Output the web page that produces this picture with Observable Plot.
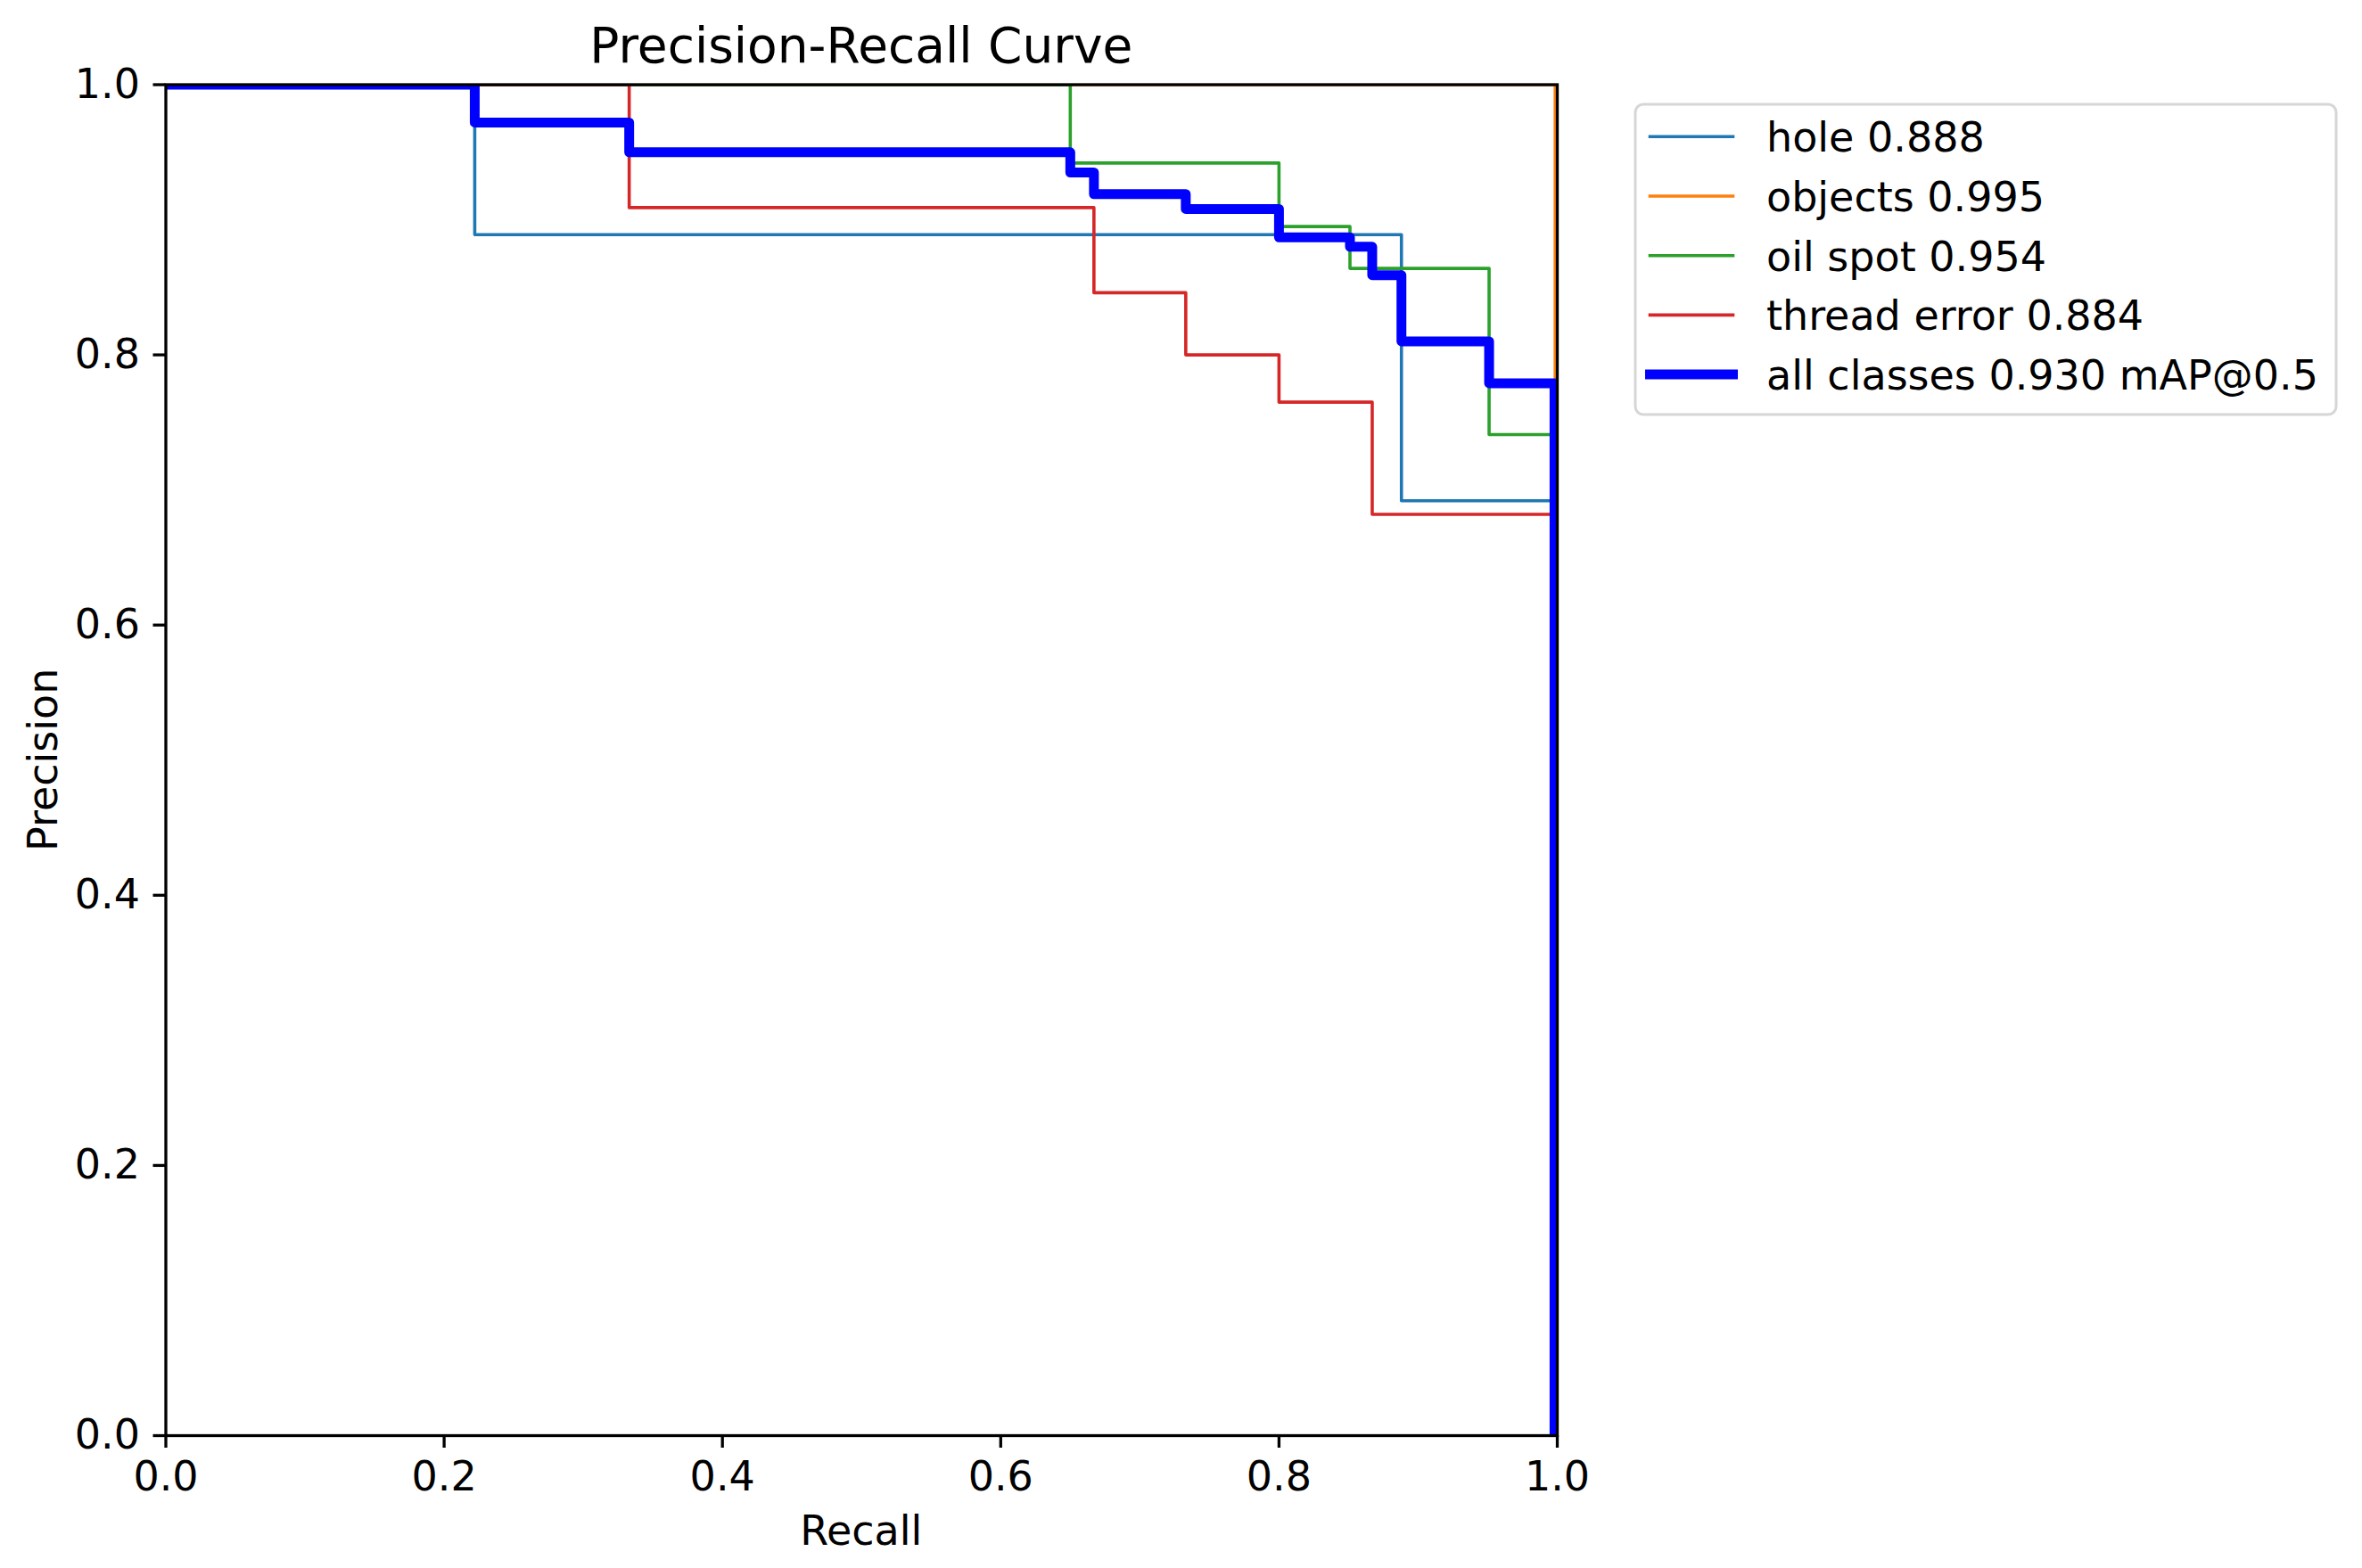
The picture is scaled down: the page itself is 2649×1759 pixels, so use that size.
<!DOCTYPE html>
<html><head><meta charset="utf-8">
<script src="https://cdn.jsdelivr.net/npm/d3@7"></script>
<script src="https://cdn.jsdelivr.net/npm/@observablehq/plot@0.6"></script>
<style>html,body{margin:0;padding:0;background:#fff;} #chart{position:relative;width:2649px;height:1759px;}</style>
</head><body><div id="chart"></div>
<script>
// ---- data ----
const classNames = ["hole 0.888", "objects 0.995", "oil spot 0.954", "thread error 0.884", "all classes 0.930 mAP@0.5"];
const classColors = ["#1f77b4", "#ff7f0e", "#2ca02c", "#d62728", "#0000ff"];

const recallHole = [0, 0.222, 0.888, 0.998];
const precHole   = [1.0, 0.889, 0.692, 0];

const recallObjects = [0, 0.9985];
const precObjects   = [1.0, 0];

const recallOil = [0, 0.650, 0.800, 0.851, 0.951, 0.998];
const precOil   = [1.0, 0.942, 0.895, 0.864, 0.741, 0];

const recallThread = [0, 0.333, 0.667, 0.733, 0.800, 0.867, 0.998];
const precThread   = [1.0, 0.909, 0.846, 0.800, 0.765, 0.682, 0];

const recallAll = [0, 0.222, 0.333, 0.650, 0.667, 0.733, 0.800, 0.851, 0.867, 0.888, 0.951, 0.998];
const precAll   = [1.0, 0.972, 0.950, 0.935, 0.919, 0.908, 0.887, 0.880, 0.859, 0.810, 0.779, 0];

const xTicks = [0, 0.2, 0.4, 0.6, 0.8, 1.0];
const yTicks = [0, 0.2, 0.4, 0.6, 0.8, 1.0];

const titleText = "Precision-Recall Curve";
const xLabel = "Recall";
const yLabel = "Precision";

// ---- build tables ----
function series(name, rec, prec) { return rec.map((r, i) => ({name, recall: r, precision: prec[i]})); }
const tables = [
  series(classNames[0], recallHole, precHole),
  series(classNames[1], recallObjects, precObjects),
  series(classNames[2], recallOil, precOil),
  series(classNames[3], recallThread, precThread),
  series(classNames[4], recallAll, precAll)
];

const W = 2649, H = 1759, ML = 185.5, MR = 903, MT = 94.5, MB = 149;
const thin = 3.6, thick = 11;
const FONT = "DejaVu Sans";
const FS = 46, TFS = 55;

const lineMarks = tables.map((t, i) => Plot.line(t, {
  x: "recall", y: "precision", stroke: classColors[i],
  strokeWidth: i === 4 ? thick : thin, curve: "step-after", clip: true,
  strokeLinejoin: "round", strokeLinecap: "square"
}));

const svg = Plot.plot({
  width: W, height: H,
  marginLeft: ML, marginRight: MR, marginTop: MT, marginBottom: MB,
  style: {fontFamily: FONT, background: "white", color: "black", overflow: "visible"},
  x: {domain: [0, 1]},
  y: {domain: [0, 1]},
  marks: [
    ...lineMarks,
    Plot.frame({stroke: "black", strokeWidth: 3.3}),
    Plot.axisX({ticks: xTicks, tickFormat: d3.format(".1f"), tickSize: 14, tickPadding: 15,
      fontSize: FS, strokeWidth: 3.3, stroke: "black", fill: "black", label: null}),
    Plot.axisY({ticks: yTicks, tickFormat: d3.format(".1f"), tickSize: 14, tickPadding: 15,
      fontSize: FS, strokeWidth: 3.3, stroke: "black", fill: "black", label: null})
  ]
});

document.getElementById("chart").appendChild(svg);

const s = d3.select(svg);
const cx = ML + (W - ML - MR) / 2;
s.append("text").attr("x", cx).attr("y", 70).attr("text-anchor", "middle")
  .attr("font-family", FONT).attr("font-size", TFS).attr("fill", "black").text(titleText);
s.append("text").attr("x", cx).attr("y", 1733).attr("text-anchor", "middle")
  .attr("font-family", FONT).attr("font-size", FS).attr("fill", "black").text(xLabel);
s.append("text").attr("transform", `translate(64,${MT + (H - MT - MB) / 2}) rotate(-90)`)
  .attr("text-anchor", "middle").attr("font-family", FONT).attr("font-size", FS)
  .attr("fill", "black").text(yLabel);

// legend
const lg = s.append("g");
lg.append("rect").attr("x", 1834).attr("y", 117).attr("width", 786).attr("height", 348)
  .attr("rx", 9).attr("fill", "white").attr("fill-opacity", 0.8)
  .attr("stroke", "#d6d6d6").attr("stroke-width", 3);
classNames.forEach((name, i) => {
  const y = 153.3 + i * 66.7;
  lg.append("line").attr("x1", 1850.5).attr("x2", 1943.5).attr("y1", y).attr("y2", y)
    .attr("stroke", classColors[i]).attr("stroke-width", i === 4 ? thick : thin)
    .attr("stroke-linecap", "square");
  lg.append("text").attr("x", 1981).attr("y", y + 17).attr("text-anchor", "start")
    .attr("font-family", FONT).attr("font-size", FS).attr("fill", "black").text(name);
});
</script>
</body></html>
